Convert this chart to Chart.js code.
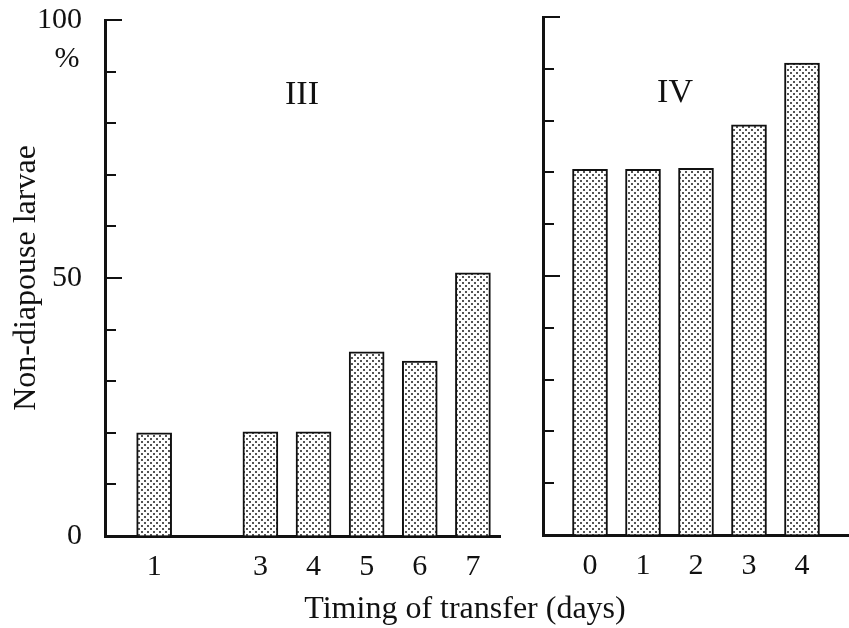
<!DOCTYPE html>
<html><head><meta charset="utf-8">
<script src="https://cdn.jsdelivr.net/npm/chart.js@4"></script>
<style>
html,body{margin:0;padding:0;background:#fff;}
#wrap{position:relative;width:849px;height:628px;overflow:hidden;background:#fff;}
#c1{position:absolute;left:0;top:0;}
#c2{position:absolute;left:520px;top:0;}
</style></head><body>
<div id="wrap"><canvas id="c1" width="849" height="628"></canvas><canvas id="c2" width="329" height="628"></canvas></div>
<script>
// ---- data ----
const daysIII = [1, 3, 4, 5, 6, 7];
const valuesIII = [20.0, 20.2, 20.2, 35.7, 33.9, 51.0];
const daysIV = [0, 1, 2, 3, 4];
const valuesIV = [70.6, 70.6, 70.8, 79.2, 91.1];
const yTickLabels = [0, 50, 100];
const panelIII = 'III';
const panelIV = 'IV';
const yTitle = 'Non-diapouse larvae';
const xTitle = 'Timing of transfer (days)';
const yUnit = '%';

const FAM = '"Liberation Serif", "Times New Roman", serif';
const INK = '#111111';

function makePattern() {
  const t = document.createElement('canvas');
  t.width = 6; t.height = 6;
  const g = t.getContext('2d');
  g.fillStyle = '#ffffff'; g.fillRect(0, 0, 6, 6);
  g.fillStyle = '#555555';
  g.fillRect(0, 0, 2, 2); g.fillRect(3, 3, 2, 2);
  return g.createPattern(t, 'repeat');
}
const pattern = makePattern();

const inwardTicks = {
  id: 'inwardTicks',
  afterDraw(chart) {
    const s = chart.scales.y, ctx = chart.ctx, x0 = chart.chartArea.left;
    ctx.save();
    ctx.strokeStyle = '#111'; ctx.lineWidth = 2;
    s.ticks.forEach(t => {
      if (t.value === 0) return;
      const y = Math.round(s.getPixelForValue(t.value));
      const len = (t.value % 50 === 0) ? 17 : 11;
      ctx.beginPath(); ctx.moveTo(x0, y); ctx.lineTo(x0 + len, y); ctx.stroke();
    });
    ctx.restore();
  }
};

const freeText = {
  id: 'freeText',
  afterDraw(chart, args, opts) {
    const ctx = chart.ctx;
    (opts.items || []).forEach(it => {
      ctx.save();
      ctx.font = it.font;
      ctx.fillStyle = INK;
      ctx.textAlign = 'center';
      ctx.textBaseline = it.baseline || 'middle';
      ctx.fillText(it.text, it.x, it.y);
      ctx.restore();
    });
  }
};

function cfg(days, vals, xmin, xmax, o) {
  return {
    type: 'bar',
    data: { datasets: [{
      data: days.map((d, i) => ({ x: d, y: vals[i] })),
      backgroundColor: pattern, borderColor: '#111', borderWidth: 2, barThickness: 35
    }] },
    options: {
      responsive: false, animation: false, devicePixelRatio: 1,
      layout: { padding: o.padding, autoPadding: false },
      plugins: { legend: { display: false }, tooltip: { enabled: false }, freeText: { items: o.texts } },
      scales: {
        x: {
          type: 'linear', min: xmin, max: xmax, offset: false, bounds: 'data',
          afterBuildTicks: s => { s.ticks = days.map(v => ({ value: v })); },
          afterFit: s => { s.height = o.xh; },
          grid: { display: true, drawOnChartArea: false, drawTicks: false, offset: false },
          border: { display: true, width: 3, color: '#111' },
          ticks: { padding: 13, color: INK, font: { family: FAM, size: 30 }, maxRotation: 0, autoSkip: false,
                   callback: v => String(v) }
        },
        y: {
          min: 0, max: 100,
          afterFit: s => { s.width = o.yw; s.paddingTop = 0; s.paddingBottom = 0; },
          grid: { display: true, drawOnChartArea: false, drawTicks: false },
          border: { display: true, width: 3, color: '#111' },
          ticks: { stepSize: 10, padding: 23, color: INK, font: { family: FAM, size: 30 }, autoSkip: false,
                   callback: v => (o.showY && yTickLabels.includes(v)) ? String(v) : '' },
          title: { display: o.showY, text: yTitle, color: INK, font: { family: FAM, size: 32 }, padding: { top: 7, bottom: 0 } }
        }
      }
    },
    plugins: [inwardTicks, freeText]
  };
}

new Chart(document.getElementById('c1'), cfg(daysIII, valuesIII, 0.075, 7.51, {
  padding: { top: 20, right: 349, bottom: 0, left: 0 }, xh: 92, yw: 105, showY: true,
  texts: [
    { text: panelIII, x: 302, y: 95, font: '34px ' + FAM },
    { text: yUnit, x: 67, y: 59, font: '30px ' + FAM },
    { text: xTitle, x: 465, y: 618, font: '32px ' + FAM, baseline: 'alphabetic' }
  ]
}));

new Chart(document.getElementById('c2'), cfg(daysIV, valuesIV, -0.887, 4.887, {
  padding: { top: 17, right: 0, bottom: 0, left: 0 }, xh: 93, yw: 23, showY: false,
  texts: [
    { text: panelIV, x: 155, y: 93, font: '34px ' + FAM }
  ]
}));
</script>
</body></html>
